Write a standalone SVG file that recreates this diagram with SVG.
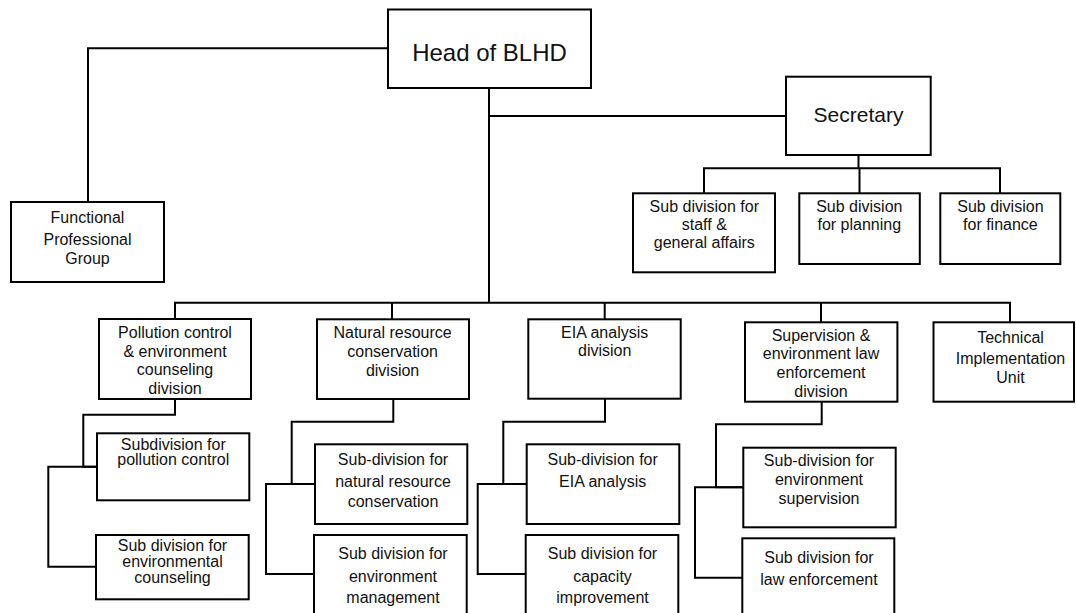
<svg xmlns="http://www.w3.org/2000/svg" width="1076" height="613" viewBox="0 0 1076 613">
  <style>
    .box { fill: #ffffff; stroke: #000000; stroke-width: 2; }
    .wire { fill: none; stroke: #000000; stroke-width: 2; stroke-linejoin: miter; }
    text { font-family: "Liberation Sans", Arial, sans-serif; font-size: 16px; fill: #111111; text-anchor: middle; }
    .big { font-size: 24px; }
    .mid { font-size: 21px; }
  </style>
  <rect width="1076" height="613" fill="#ffffff"/>

  <!-- connectors -->
  <g id="connectors">
    <!-- head to functional group -->
    <path class="wire" d="M388,48.3 H88 V202"/>
    <!-- head trunk -->
    <path class="wire" d="M489,88 V302.7"/>
    <!-- head to secretary -->
    <path class="wire" d="M489,116 H786"/>
    <!-- secretary to its sub divisions -->
    <path class="wire" d="M858.5,155 V168.3"/>
    <path class="wire" d="M704,193.3 V168.3 H1000 V193.3"/>
    <path class="wire" d="M859.5,168.3 V193.3"/>
    <!-- division bus -->
    <path class="wire" d="M175,319 V302.7 H1010 V322.3"/>
    <path class="wire" d="M392,302.7 V319.3"/>
    <path class="wire" d="M604.7,302.7 V319.3"/>
    <path class="wire" d="M821,302.7 V322.3"/>
    <!-- pollution branch -->
    <path class="wire" d="M175,399 V414.7 H83.3 V466.7 H97"/>
    <path class="wire" d="M97,466.7 H48.3 V566.7 H96"/>
    <!-- natural resource branch -->
    <path class="wire" d="M393.3,399 V421.7 H291.7 V484 H315"/>
    <path class="wire" d="M315,484 H266 V574 H314"/>
    <!-- EIA branch -->
    <path class="wire" d="M605,399 V421.7 H503.3 V484 H526.7"/>
    <path class="wire" d="M526.7,484 H477.7 V574 H525.7"/>
    <!-- supervision branch -->
    <path class="wire" d="M821.7,401.7 V424.3 H716 V487.3 H743.3"/>
    <path class="wire" d="M743.3,487.3 H695 V577.7 H742.3"/>
  </g>

  <g id="head">
    <rect class="box" x="388" y="9.5" width="203" height="78.5"/>
    <text class="big" x="489.5" y="61">Head of BLHD</text>
  </g>

  <g id="functional-group">
    <rect class="box" x="11" y="202" width="153" height="80"/>
    <text x="87.5" y="222.7">Functional</text>
    <text x="87.5" y="245">Professional</text>
    <text x="87.5" y="264.3">Group</text>
  </g>

  <g id="secretary">
    <rect class="box" x="786" y="76.7" width="144.7" height="78.3"/>
    <text class="mid" x="858.5" y="121.7">Secretary</text>
  </g>

  <g id="sub-staff">
    <rect class="box" x="633" y="193.3" width="142" height="79"/>
    <text x="704.3" y="211.7">Sub division for</text>
    <text x="704.3" y="230">staff &amp;</text>
    <text x="704.3" y="248.3">general affairs</text>
  </g>

  <g id="sub-planning">
    <rect class="box" x="799.3" y="193.3" width="120.5" height="70.7"/>
    <text x="859.3" y="211.7">Sub division</text>
    <text x="859.3" y="230">for planning</text>
  </g>

  <g id="sub-finance">
    <rect class="box" x="940.3" y="193.3" width="120" height="70.7"/>
    <text x="1000.4" y="211.7">Sub division</text>
    <text x="1000.4" y="230">for finance</text>
  </g>

  <g id="div-pollution">
    <rect class="box" x="99" y="319" width="152" height="80"/>
    <text x="175" y="338.3">Pollution control</text>
    <text x="175" y="356.7">&amp; environment</text>
    <text x="175" y="375">counseling</text>
    <text x="175" y="394">division</text>
  </g>

  <g id="div-natural">
    <rect class="box" x="317" y="319.3" width="152" height="79.7"/>
    <text x="392.6" y="338.3">Natural resource</text>
    <text x="392.6" y="357.3">conservation</text>
    <text x="392.6" y="376">division</text>
  </g>

  <g id="div-eia">
    <rect class="box" x="528.3" y="319.3" width="152.4" height="79.4"/>
    <text x="604.7" y="338.3">EIA analysis</text>
    <text x="604.7" y="356">division</text>
  </g>

  <g id="div-supervision">
    <rect class="box" x="745" y="322.3" width="152.4" height="79.4"/>
    <text x="821" y="340.7">Supervision &amp;</text>
    <text x="821" y="359.3">environment law</text>
    <text x="821" y="378.3">enforcement</text>
    <text x="821" y="397.3">division</text>
  </g>

  <g id="unit-technical">
    <rect class="box" x="933.5" y="322.3" width="140.5" height="79.4"/>
    <text x="1010.5" y="343.3">Technical</text>
    <text x="1010.5" y="364">Implementation</text>
    <text x="1010.5" y="383.3">Unit</text>
  </g>

  <g id="sub-pollution-control">
    <rect class="box" x="97" y="433.3" width="152.3" height="67"/>
    <text x="173.3" y="450">Subdivision for</text>
    <text x="173.3" y="465">pollution control</text>
  </g>

  <g id="sub-env-counseling">
    <rect class="box" x="96" y="535" width="152.7" height="64.3"/>
    <text x="172.5" y="550.7">Sub division for</text>
    <text x="172.5" y="566.7">environmental</text>
    <text x="172.5" y="582.7">counseling</text>
  </g>

  <g id="sub-natural-conservation">
    <rect class="box" x="315" y="444.3" width="152.3" height="79.7"/>
    <text x="393" y="465">Sub-division for</text>
    <text x="393" y="486.7">natural resource</text>
    <text x="393" y="506.7">conservation</text>
  </g>

  <g id="sub-env-management">
    <rect class="box" x="314" y="535" width="152.7" height="90"/>
    <text x="393" y="559.3">Sub division for</text>
    <text x="393" y="581.7">environment</text>
    <text x="393" y="602.7">management</text>
  </g>

  <g id="sub-eia-analysis">
    <rect class="box" x="526.7" y="444.3" width="152.6" height="79.7"/>
    <text x="602.7" y="465">Sub-division for</text>
    <text x="602.7" y="486.7">EIA analysis</text>
  </g>

  <g id="sub-capacity">
    <rect class="box" x="525.7" y="535" width="152.6" height="90"/>
    <text x="602.5" y="559.3">Sub division for</text>
    <text x="602.5" y="581.7">capacity</text>
    <text x="602.5" y="602.7">improvement</text>
  </g>

  <g id="sub-env-supervision">
    <rect class="box" x="743.3" y="447.7" width="152.4" height="79.6"/>
    <text x="819" y="465.7">Sub-division for</text>
    <text x="819" y="485">environment</text>
    <text x="819" y="504">supervision</text>
  </g>

  <g id="sub-law-enforcement">
    <rect class="box" x="742.3" y="538.3" width="152" height="90"/>
    <text x="819" y="562.7">Sub division for</text>
    <text x="819" y="585">law enforcement</text>
  </g>
</svg>
